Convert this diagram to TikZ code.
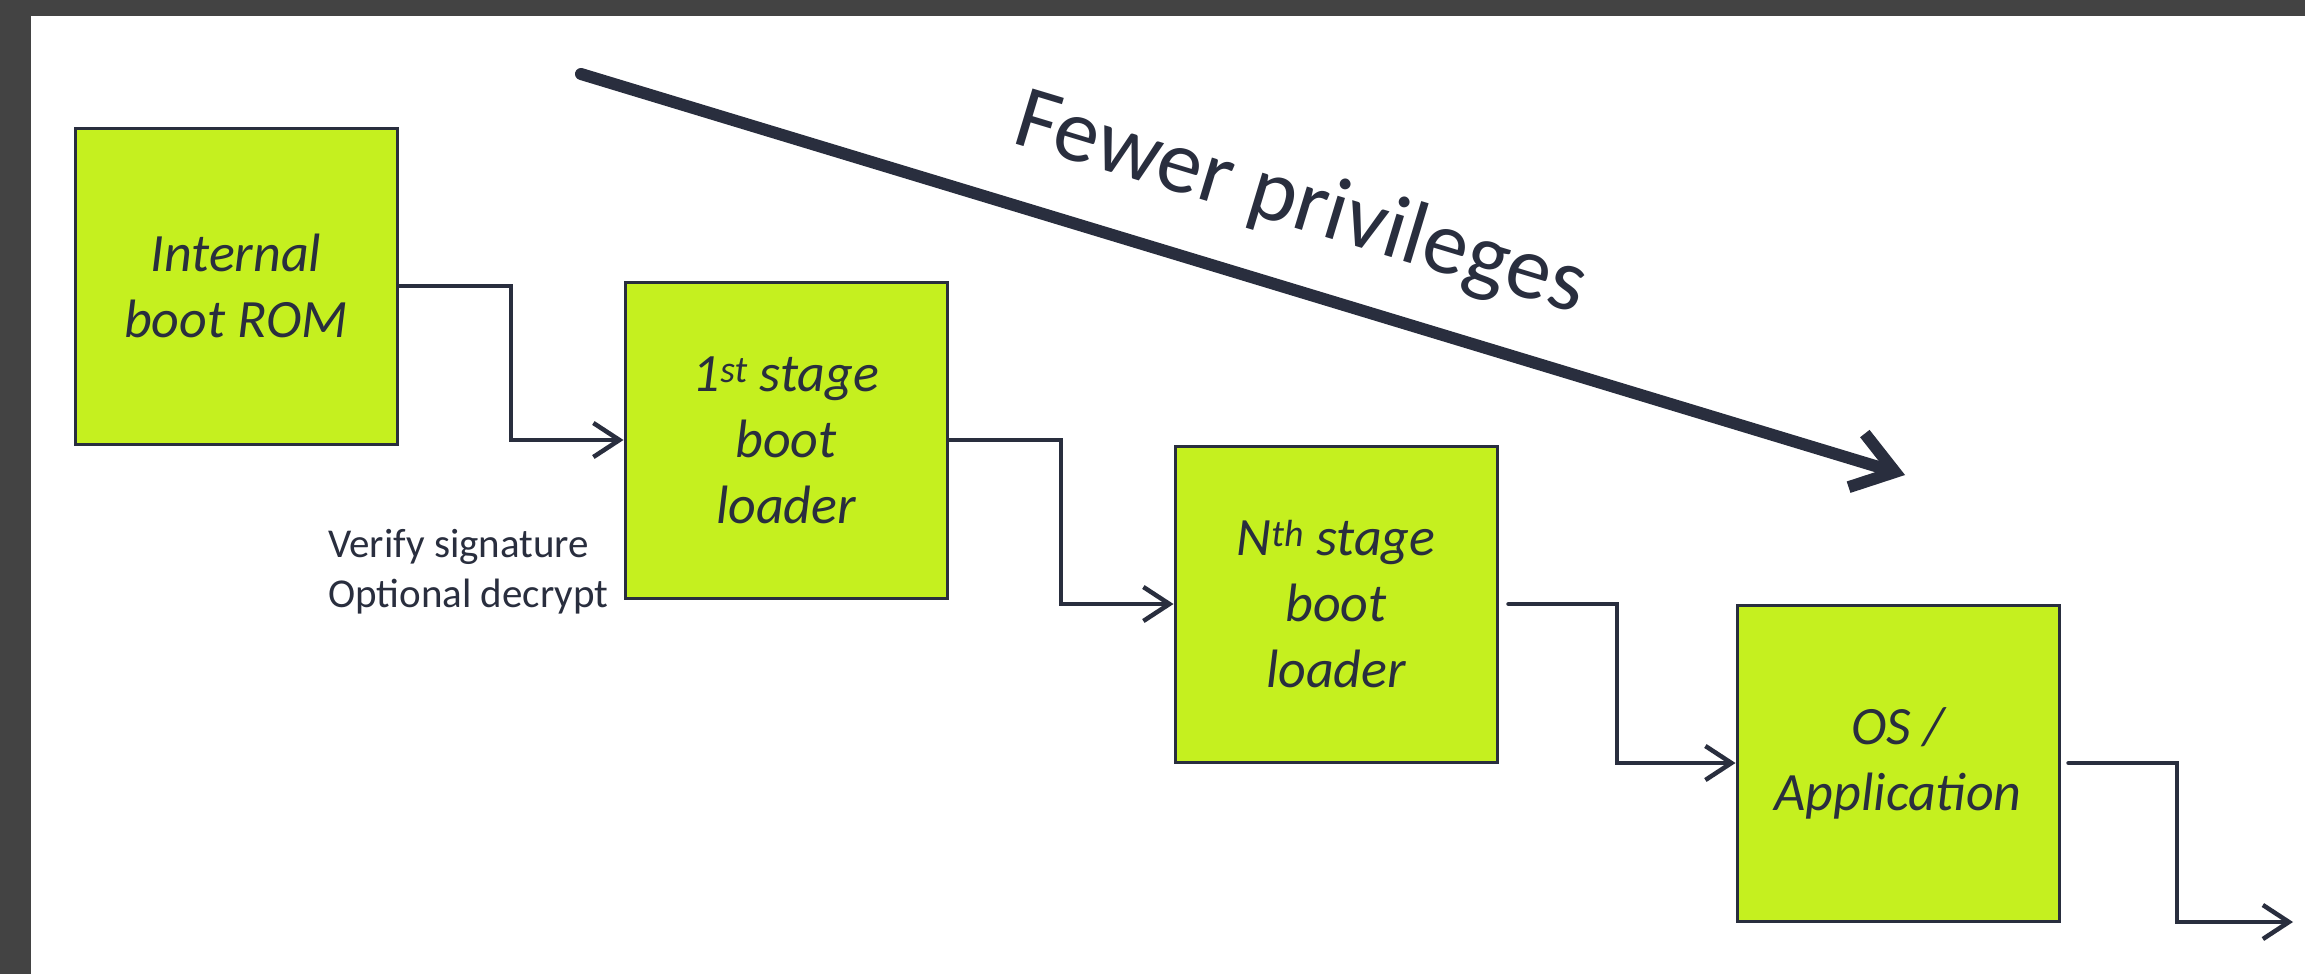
\documentclass[tikz,border=0pt]{standalone}
\usepackage{fontspec}
\setmainfont{Carlito}
\usetikzlibrary{arrows.meta,calc}
\definecolor{boxfill}{RGB}{197,240,31}
\definecolor{ink}{RGB}{41,46,62}
\definecolor{band}{RGB}{67,67,67}
\begin{document}
\begin{tikzpicture}[x=1pt,y=-1pt,
  stagebox/.style={draw=ink, line width=3pt, fill=boxfill, minimum width=322pt,
    minimum height=316pt, inner sep=0pt, align=center, text=ink,
    font=\fontsize{54}{66}\selectfont\itshape},
  conn/.style={draw=ink, line width=4.5pt, line cap=round,
    -{Straight Barb[length=26pt,width=34pt]}},
  bigarrow/.style={draw=ink, line width=12pt, line cap=round,
    -{Straight Barb[length=40pt,width=56pt]}}]
\useasboundingbox (0,0) rectangle (2305,974);
\fill[white] (0,0) rectangle (2305,974);
\fill[band] (0,0) rectangle (2305,16);
\fill[band] (0,0) rectangle (31,974);

\node[stagebox] (b1) at (236,286) {Internal\\boot ROM};
\node[stagebox] (b2) at (786,440) {1\textsuperscript{st} stage\\boot\\loader};
\node[stagebox] (b3) at (1336,604) {N\textsuperscript{th} stage\\boot\\loader};
\node[stagebox] (b4) at (1898,763) {OS /\\Application};
\coordinate (out) at (2293,922);

\draw[conn] (b1.east) -| ($(b1.east)!0.5!(b2.west)$) |- (b2.west);
\draw[conn] (b2.east) -| ($(b2.east)!0.5!(b3.west)$) |- (b3.west);
\draw[conn, shorten <=10pt] (b3.east) -| ($(b3.east)!0.5!(b4.west)$) |- (b4.west);
\draw[conn, shorten <=8pt] (b4.east) -| ($(b4.east)!0.5!(out)$) |- (out);

\node[font=\fontsize{41}{50}\selectfont, text=ink, align=left, anchor=west,
  inner sep=0pt] (note) at (328,572) {Verify signature\\Optional decrypt};

\coordinate (ps) at (581,74);
\coordinate (pe) at (1905,475);
\draw[bigarrow] (ps) -- (pe);
\node[font=\fontsize{90}{108}\selectfont, text=ink, rotate=-16.8,
  anchor=base west, inner sep=0pt] (fp) at (1010,142) {Fewer privileges};
\end{tikzpicture}
\end{document}
